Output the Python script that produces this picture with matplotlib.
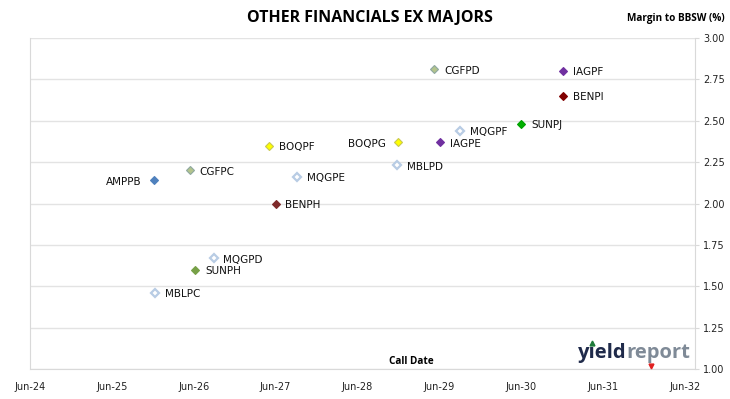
import numpy as np
import pandas as pd
import matplotlib
matplotlib.use("Agg")
import matplotlib.pyplot as plt
import matplotlib.dates as mdates
from matplotlib.lines import Line2D

# securities, call dates and margins
names = ["AMPPB", "MBLPC", "CGFPC", "SUNPH", "MQGPD", "BOQPF", "BENPH", "MQGPE",
         "BOQPG", "MBLPD", "CGFPD", "IAGPE", "MQGPF", "SUNPJ", "IAGPF", "BENPI"]
call_dates = ["2025-12-05", "2025-12-12", "2026-05-14", "2026-06-08", "2026-08-29",
              "2027-05-02", "2027-06-01", "2027-09-06", "2028-11-28", "2028-11-25",
              "2029-05-10", "2029-06-04", "2029-09-03", "2030-06-02", "2030-12-04",
              "2030-12-04"]
margins = [2.14, 1.46, 2.20, 1.60, 1.67, 2.35, 2.00, 2.16,
           2.37, 2.23, 2.81, 2.37, 2.44, 2.48, 2.80, 2.65]

# marker style per issuer: (face, edge)
styles = {
    "AMPPB": ("#4F81BD", "#4F81BD"),
    "MBLPC": ("white", "#B8CCE4"),
    "CGFPC": ("#B3C48C", "#8FA8A0"),
    "SUNPH": ("#77A047", "#77A047"),
    "MQGPD": ("white", "#B8CCE4"),
    "BOQPF": ("#FFFF00", "#C8C850"),
    "BENPH": ("#7F2A2A", "#7F2A2A"),
    "MQGPE": ("white", "#B8CCE4"),
    "BOQPG": ("#FFFF00", "#C8C850"),
    "MBLPD": ("white", "#B8CCE4"),
    "CGFPD": ("#B3C48C", "#8FA8A0"),
    "IAGPE": ("#7030A0", "#7030A0"),
    "MQGPF": ("white", "#B8CCE4"),
    "SUNPJ": ("#00B000", "#00A000"),
    "IAGPF": ("#7030A0", "#7030A0"),
    "BENPI": ("#800000", "#800000"),
}
left_labels = ["AMPPB", "BOQPG"]

dates = pd.to_datetime(call_dates)

fig = plt.figure(figsize=(7.3, 3.99), dpi=100)
ax = fig.add_axes([30/730, 30/399, 665/730, 331/399])

for n, d, m in zip(names, dates, margins):
    fc, ec = styles[n]
    ax.plot(d, m, marker="D", ms=4.2, mfc=fc, mec=ec,
            mew=1.6 if fc == "white" else 0.8, ls="none", zorder=3)
    if n in left_labels:
        ax.annotate(n, (d, m), xytext=(-9, -1), textcoords="offset points",
                    ha="right", va="center", fontsize=7.5, color="#111111")
    else:
        ax.annotate(n, (d, m), xytext=(7, -1), textcoords="offset points",
                    ha="left", va="center", fontsize=7.5, color="#111111")

ax.set_xlim(pd.Timestamp("2024-06-01"), pd.Timestamp("2032-07-15"))
ax.set_ylim(1.0, 3.0)
ax.xaxis.set_major_locator(mdates.MonthLocator(bymonth=6, bymonthday=1))
ax.xaxis.set_major_formatter(mdates.DateFormatter("%b-%y"))
ax.set_yticks(np.arange(1.0, 3.01, 0.25))
ax.yaxis.set_major_formatter(matplotlib.ticker.FormatStrFormatter("%.2f"))
ax.yaxis.tick_right()
ax.tick_params(axis="y", length=3, color="#D9D9D9", labelsize=7, labelcolor="#222222", pad=3)
ax.tick_params(axis="x", length=0, labelsize=7, labelcolor="#222222", pad=9)
ax.grid(axis="y", color="#E3E3E3", lw=1)
ax.set_axisbelow(True)
for s in ["left", "bottom", "right"]:
    ax.spines[s].set_color("#D9D9D9")
ax.spines["top"].set_visible(False)

fig.text(370/730, 1 - 18/399, "OTHER FINANCIALS EX MAJORS", ha="center", va="center",
         fontsize=11.5, fontweight="bold", family="Open Sans")
fig.text(725/730, 1 - 18/399, "Margin to BBSW (%)", ha="right", va="center",
         fontsize=7.2, fontweight="bold", family="Open Sans")
fig.text(411/730, 1 - 362/399, "Call Date", ha="center", va="center",
         fontsize=7.2, fontweight="bold", family="Open Sans")

# logo (dotless i, the dot is a green triangle)
t = fig.text(578/730, 1 - 353/399, "y\u0131eld", ha="left", va="center", fontsize=14.5,
             fontweight="bold", family="Open Sans", color="#1F2A4A")
fig.canvas.draw()
bb = t.get_window_extent()
fig.text(bb.x1 / 730, 1 - 353/399, "report", ha="left", va="center", fontsize=14.5,
         fontweight="bold", family="Open Sans", color="#7F8A97")
fig.add_artist(Line2D([592/730], [1 - 343/399], marker="^", ms=3.5, color="#1E7B3A",
                      transform=fig.transFigure))
fig.add_artist(Line2D([651/730], [1 - 366/399], marker="v", ms=3.5, color="#E02020",
                      transform=fig.transFigure))

fig.savefig("out.png", dpi=100)
